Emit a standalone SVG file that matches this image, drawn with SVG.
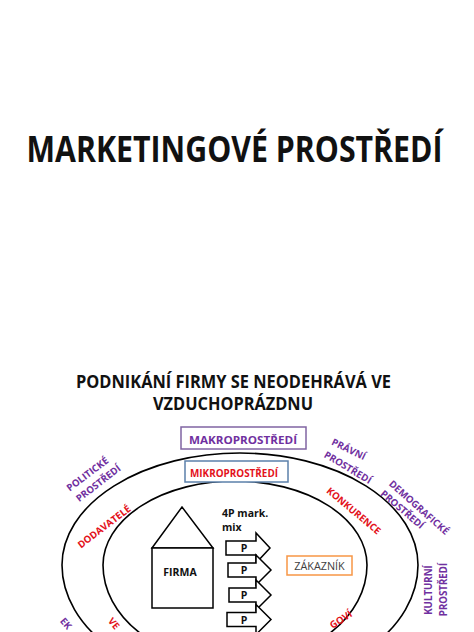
<svg xmlns="http://www.w3.org/2000/svg" width="474" height="632" viewBox="0 0 474 632">
<style>
  text { font-family: "Open Sans", "Liberation Sans", sans-serif; font-weight: bold; }
  .ring { fill: none; stroke: #000; stroke-width: 1.6; }
  .shape { fill: #fff; stroke: #000; stroke-width: 1.5; stroke-linejoin: miter; }
  .macro { fill: #7030A0; font-size: 9.7px; }
  .micro { fill: #E3121B; font-size: 9.7px; }
  .small { fill: #111; font-size: 10.5px; }
</style>
<rect width="474" height="632" fill="#fff"/>

<g id="title">
  <text transform="translate(234.5,162) scale(0.866,1)" text-anchor="middle" font-size="35" fill="#111">MARKETINGOVÉ PROSTŘEDÍ</text>
  <text x="233.5" y="388" text-anchor="middle" font-size="18" fill="#111" textLength="315" lengthAdjust="spacingAndGlyphs">PODNIKÁNÍ FIRMY SE NEODEHRÁVÁ VE</text>
  <text x="233" y="410" text-anchor="middle" font-size="18" fill="#111" textLength="160" lengthAdjust="spacingAndGlyphs">VZDUCHOPRÁZDNU</text>
</g>

<g id="rings">
  <path class="ring" d="M62,565 A178,112 0 0 1 418,565 A178,121 0 0 1 62,565 Z"/>
  <path class="ring" d="M103,565 A132,84 0 0 1 367,565 A132,98 0 0 1 103,565 Z"/>
</g>

<g id="makroprostredi">
  <rect x="181" y="427" width="125" height="22" fill="#fff" stroke="#8064A2" stroke-width="1.5"/>
  <text x="243" y="444" text-anchor="middle" font-size="11.2" fill="#7030A0" textLength="108" lengthAdjust="spacingAndGlyphs">MAKROPROSTŘEDÍ</text>
</g>

<g id="mikroprostredi">
  <rect x="185" y="461" width="103" height="21" fill="#fff" stroke="#5B80AA" stroke-width="1.5"/>
  <text x="234" y="476.5" text-anchor="middle" font-size="10.8" fill="#E3121B" textLength="88" lengthAdjust="spacingAndGlyphs">MIKROPROSTŘEDÍ</text>
</g>

<g id="firma">
  <polygon class="shape" points="152,548 182,507 213,548"/>
  <rect class="shape" x="152" y="548" width="61" height="60"/>
  <text class="small" x="180" y="576" text-anchor="middle">FIRMA</text>
</g>

<g id="mix-label">
  <text class="small" x="222" y="517">4P mark.</text>
  <text class="small" x="222" y="531">mix</text>
</g>

<g id="mix-arrows">
  <g transform="translate(226,548)">
    <polygon class="shape" points="0,-7 30,-7 30,-15 44,0 30,15 30,7 0,7"/>
    <text class="small" x="18" y="4" text-anchor="middle" font-size="10">P</text>
  </g>
  <g transform="translate(228,570)">
    <polygon class="shape" points="0,-7 28,-7 28,-15 43,0 28,15 28,7 0,7"/>
    <text class="small" x="16" y="4" text-anchor="middle" font-size="10">P</text>
  </g>
  <g transform="translate(229,595)">
    <polygon class="shape" points="0,-7 27,-7 27,-15 42,0 27,15 27,7 0,7"/>
    <text class="small" x="15" y="4" text-anchor="middle" font-size="10">P</text>
  </g>
  <g transform="translate(227,619.5)">
    <polygon class="shape" points="0,-7 29,-7 29,-15 44,0 29,15 29,7 0,7"/>
    <text class="small" x="17" y="4" text-anchor="middle" font-size="10">P</text>
  </g>
</g>

<g id="zakaznik">
  <rect x="287" y="556" width="65" height="19" fill="#fff" stroke="#F79646" stroke-width="1.5"/>
  <text x="319.5" y="569.5" text-anchor="middle" font-size="10.8" fill="#404040" style="font-weight:normal">ZÁKAZNÍK</text>
</g>

<g id="politicke">
  <text class="macro" transform="translate(87.5,474.2) rotate(-37)" y="3.4" text-anchor="middle">POLITICKÉ</text>
  <text class="macro" transform="translate(98.3,483.3) rotate(-37.6)" y="3.4" text-anchor="middle">PROSTŘEDÍ</text>
</g>

<g id="dodavatele">
  <text class="micro" transform="translate(104.2,526.7) rotate(-37.2)" y="3.4" text-anchor="middle">DODAVATELÉ</text>
</g>

<g id="pravni">
  <text class="macro" transform="translate(348.7,449.2) rotate(26)" y="3.4" text-anchor="middle">PRÁVNÍ</text>
  <text class="macro" transform="translate(347.8,467.5) rotate(31)" y="3.4" text-anchor="middle">PROSTŘEDÍ</text>
</g>

<g id="konkurence">
  <text class="micro" transform="translate(353.7,510.8) rotate(39.8)" y="3.4" text-anchor="middle">KONKURENCE</text>
</g>

<g id="demograficke">
  <text class="macro" transform="translate(419,507.5) rotate(41.5)" y="3.4" text-anchor="middle">DEMOGRAFICKÉ</text>
  <text class="macro" transform="translate(402.3,509.5) rotate(40.5)" y="3.4" text-anchor="middle">PROSTŘEDÍ</text>
</g>

<g id="kulturni">
  <text class="macro" transform="translate(428.7,590) rotate(-90)" y="3.6" text-anchor="middle" font-size="10">KULTURNÍ</text>
  <text class="macro" transform="translate(443.7,589.5) rotate(-90)" y="3.6" text-anchor="middle" font-size="10">PROSTŘEDÍ</text>
</g>

<g id="ekonomicke">
  <text class="macro" transform="translate(62,619) rotate(50)" y="3.4">EK</text>
</g>

<g id="verejnost">
  <text class="micro" transform="translate(110,619) rotate(50)" y="3.4">VE</text>
</g>

<g id="zprostredkovatele">
  <text class="micro" transform="translate(351,613) rotate(-33)" y="3.4" text-anchor="end">GOVÍ</text>
</g>
</svg>
